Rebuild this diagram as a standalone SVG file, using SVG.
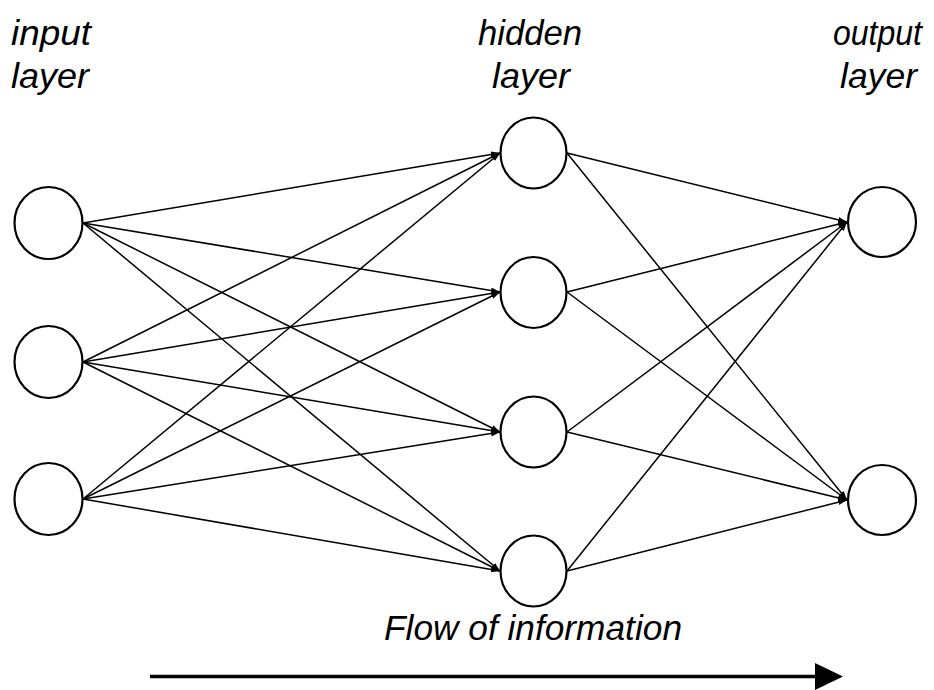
<svg xmlns="http://www.w3.org/2000/svg" width="934" height="690" viewBox="0 0 934 690">
  <style>
    .node { fill: #fff; stroke: #000; stroke-width: 2.2; }
    .edge { stroke: #000; stroke-width: 1.5; fill: none; marker-end: url(#tip); }
    .lbl { font-family: "Liberation Sans", Arial, sans-serif; font-style: italic; font-size: 35px; fill: #000; }
  </style>
  <defs>
    <marker id="tip" markerUnits="userSpaceOnUse" markerWidth="10" markerHeight="7" refX="9" refY="3" orient="auto">
      <path d="M0,0 L9,3 L0,6 z" fill="#000"/>
    </marker>
  </defs>

  <!-- layer titles -->
  <g id="titles">
    <text class="lbl" x="11" y="45" textLength="80" lengthAdjust="spacingAndGlyphs">input</text>
    <text class="lbl" x="11" y="88" textLength="78" lengthAdjust="spacingAndGlyphs">layer</text>
    <text class="lbl" x="478" y="45" textLength="104" lengthAdjust="spacingAndGlyphs">hidden</text>
    <text class="lbl" x="492" y="88" textLength="78" lengthAdjust="spacingAndGlyphs">layer</text>
    <text class="lbl" x="833" y="45" textLength="89" lengthAdjust="spacingAndGlyphs">output</text>
    <text class="lbl" x="840" y="88" textLength="77" lengthAdjust="spacingAndGlyphs">layer</text>
  </g>

  <!-- weighted connections, input -> hidden -> output -->
  <g id="connectors">
    <line class="edge" x1="83" y1="223" x2="500" y2="153"/>
    <line class="edge" x1="83" y1="223" x2="500" y2="292"/>
    <line class="edge" x1="83" y1="223" x2="500" y2="432"/>
    <line class="edge" x1="83" y1="223" x2="500" y2="571"/>
    <line class="edge" x1="83" y1="362" x2="500" y2="153"/>
    <line class="edge" x1="83" y1="362" x2="500" y2="292"/>
    <line class="edge" x1="83" y1="362" x2="500" y2="432"/>
    <line class="edge" x1="83" y1="362" x2="500" y2="571"/>
    <line class="edge" x1="83" y1="499" x2="500" y2="153"/>
    <line class="edge" x1="83" y1="499" x2="500" y2="292"/>
    <line class="edge" x1="83" y1="499" x2="500" y2="432"/>
    <line class="edge" x1="83" y1="499" x2="500" y2="571"/>

    <line class="edge" x1="567" y1="153" x2="847" y2="222"/>
    <line class="edge" x1="567" y1="153" x2="847" y2="500"/>
    <line class="edge" x1="567" y1="292" x2="847" y2="222"/>
    <line class="edge" x1="567" y1="292" x2="847" y2="500"/>
    <line class="edge" x1="567" y1="432" x2="847" y2="222"/>
    <line class="edge" x1="567" y1="432" x2="847" y2="500"/>
    <line class="edge" x1="567" y1="571" x2="847" y2="222"/>
    <line class="edge" x1="567" y1="571" x2="847" y2="500"/>
  </g>

  <!-- input neurons -->
  <g id="in1"><ellipse class="node" cx="48.5" cy="223" rx="34" ry="36"/></g>
  <g id="in2"><ellipse class="node" cx="48.5" cy="362" rx="34" ry="36"/></g>
  <g id="in3"><ellipse class="node" cx="48.5" cy="499" rx="34" ry="36"/></g>

  <!-- hidden neurons -->
  <g id="hid1"><ellipse class="node" cx="533.5" cy="153" rx="33" ry="35.5"/></g>
  <g id="hid2"><ellipse class="node" cx="533.5" cy="292.5" rx="33" ry="35.5"/></g>
  <g id="hid3"><ellipse class="node" cx="533.5" cy="432" rx="33" ry="35.5"/></g>
  <g id="hid4"><ellipse class="node" cx="533.5" cy="571" rx="33" ry="35.5"/></g>

  <!-- output neurons -->
  <g id="out1"><ellipse class="node" cx="882" cy="222" rx="34" ry="35"/></g>
  <g id="out2"><ellipse class="node" cx="882" cy="500" rx="34" ry="35"/></g>

  <!-- direction of flow -->
  <g id="flow">
    <text class="lbl" x="384" y="640" textLength="298" lengthAdjust="spacingAndGlyphs">Flow of information</text>
    <line x1="150" y1="676.5" x2="818" y2="676.5" stroke="#000" stroke-width="3.5"/>
    <polygon points="815,663 843,676.5 815,690" fill="#000"/>
  </g>
</svg>
